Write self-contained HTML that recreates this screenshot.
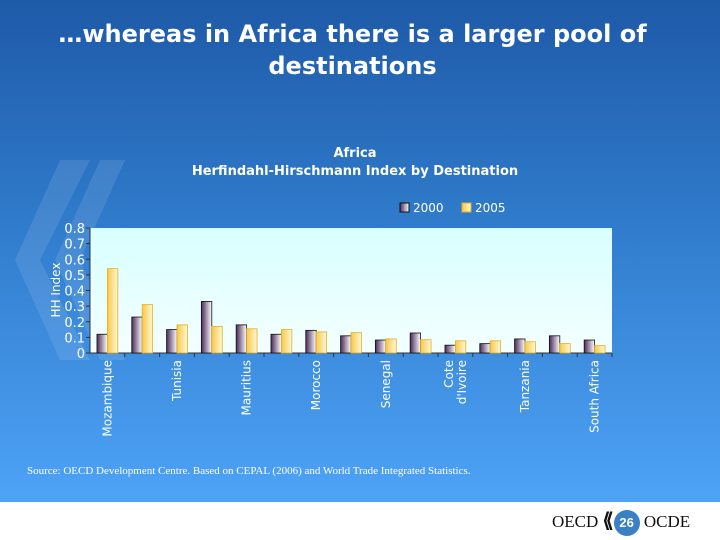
<!DOCTYPE html>
<html><head><meta charset="utf-8"><style>
body{margin:0;width:720px;height:540px;overflow:hidden;background:#fff;font-family:"Liberation Sans",sans-serif}
#slide{position:absolute;left:0;top:0;width:720px;height:502px;background:linear-gradient(#1e5aa8 0%,#2e78c8 40%,#4ea3f7 100%)}
#title{position:absolute;left:0;top:18px;width:705px;text-align:center;color:#fff;font-weight:bold;font-size:24px;line-height:32px;font-family:"DejaVu Sans",sans-serif}
#src{position:absolute;left:27px;top:465px;color:#fff;font-family:"Liberation Serif",serif;font-size:11px}
#logo{position:absolute;left:552px;top:508px;font-family:"Liberation Serif",serif;font-size:17px;color:#111}
</style></head><body>
<div id="slide"></div>
<svg width="720" height="502" style="position:absolute;left:0;top:0">
<polygon points="60,160 90,160 40,260 90,360 60,360 15,260" fill="#fff" opacity="0.1"/>
<polygon points="100,160 125,160 80,260 125,360 100,360 55,260" fill="#fff" opacity="0.1"/>
</svg>
<div id="title">…whereas in Africa there is a larger pool of<br>destinations</div>
<svg id="chart" width="720" height="502" style="position:absolute;left:0;top:0;font-family:'DejaVu Sans',sans-serif"></svg>
<div id="src">Source: OECD Development Centre. Based on CEPAL (2006) and World Trade Integrated Statistics.</div>
<div id="logo">OECD <span style="font-weight:bold;font-size:20px">⟪</span><span style="display:inline-block;width:26px;height:26px;border-radius:13px;background:#3b7fc4;color:#fff;text-align:center;line-height:26px;font-family:'Liberation Sans';font-weight:bold;font-size:13px;vertical-align:middle">26</span> OCDE</div>
<script>
const categories=["Mozambique","","Tunisia","","Mauritius","","Morocco","","Senegal","","Cote|d'Ivoire","","Tanzania","","South Africa"];
const s2000=[0.12,0.23,0.15,0.33,0.18,0.12,0.145,0.11,0.083,0.128,0.05,0.06,0.09,0.11,0.083];
const s2005=[0.54,0.31,0.18,0.17,0.155,0.15,0.135,0.13,0.09,0.085,0.078,0.078,0.072,0.06,0.047];
const ticks=[0,0.1,0.2,0.3,0.4,0.5,0.6,0.7,0.8];
const NS="http://www.w3.org/2000/svg",svg=document.getElementById('chart');
const X0=90,X1=612,Y0=353,Y1=228;
const y=v=>Y0-(v/0.8)*(Y0-Y1);
const gw=(X1-X0)/categories.length;
function mk(t,a,p){const e=document.createElementNS(NS,t);for(const k in a)e.setAttribute(k,a[k]);(p||svg).appendChild(e);return e;}
const defs=mk('defs',{});
defs.innerHTML='<linearGradient id="gA" x1="0" x2="1"><stop offset="0" stop-color="#4a2a5a"/><stop offset="1" stop-color="#fff"/></linearGradient><linearGradient id="gB" x1="0" x2="1"><stop offset="0" stop-color="#f8c848"/><stop offset="1" stop-color="#fff8d8"/></linearGradient><linearGradient id="pg" x1="0" y1="0" x2="0" y2="1"><stop offset="0" stop-color="#d8ffff"/><stop offset="1" stop-color="#f4ffff"/></linearGradient>';
let t=mk('text',{x:355,y:157,'text-anchor':'middle',fill:'#fff','font-size':13,'font-weight':'bold'});t.textContent='Africa';

t=mk('text',{x:355,y:175,'text-anchor':'middle',fill:'#fff','font-size':13,'font-weight':'bold'});t.textContent='Herfindahl-Hirschmann Index by Destination';

const pa=mk('rect',{x:X0,y:Y1,width:X1-X0,height:Y0-Y1,fill:'url(#pg)'});

ticks.forEach(v=>{const e=mk('text',{x:85,y:y(v)+5,'text-anchor':'end',fill:'#fff','font-size':13});e.textContent=v;

mk('line',{x1:X0-4,x2:X0,y1:y(v),y2:y(v),stroke:'#333'});});
t=mk('text',{transform:`translate(60,290) rotate(-90)`,'text-anchor':'middle',fill:'#fff','font-size':12});t.textContent='HH Index';

mk('line',{x1:X0,x2:X0,y1:Y1,y2:Y0,stroke:'#333'});
mk('line',{x1:X0,x2:X1,y1:Y0,y2:Y0,stroke:'#333'});
const bw=gw*0.3;
categories.forEach((c,i)=>{
 const cx=X0+gw*(i+0.5);
 let r=mk('rect',{x:cx-bw,y:y(s2000[i]),width:bw,height:Y0-y(s2000[i]),fill:'url(#gA)',stroke:'#111','stroke-width':0.8});
 
 r=mk('rect',{x:cx,y:y(s2005[i]),width:bw,height:Y0-y(s2005[i]),fill:'url(#gB)',stroke:'#e0b020','stroke-width':0.8});
 
 mk('line',{x1:X0+gw*(i+1),x2:X0+gw*(i+1),y1:Y0,y2:Y0+4,stroke:'#333'});
 if(c){const parts=c.split('|');
  parts.forEach((p,j)=>{const e=mk('text',{transform:`translate(${cx+4+(j-(parts.length-1)/2)*13},360) rotate(-90)`,'text-anchor':'end',fill:'#fff','font-size':12});e.textContent=p;
  });}
});
const lg=[['2000','url(#gA)','#111',400],['2005','url(#gB)','#e0b020',462]];
lg.forEach(l=>{mk('rect',{x:l[3],y:203,width:9,height:9,fill:l[1],stroke:l[2]});
const e=mk('text',{x:l[3]+13,y:212,fill:'#fff','font-size':12});e.textContent=l[0];
});
</script>
</body></html>
